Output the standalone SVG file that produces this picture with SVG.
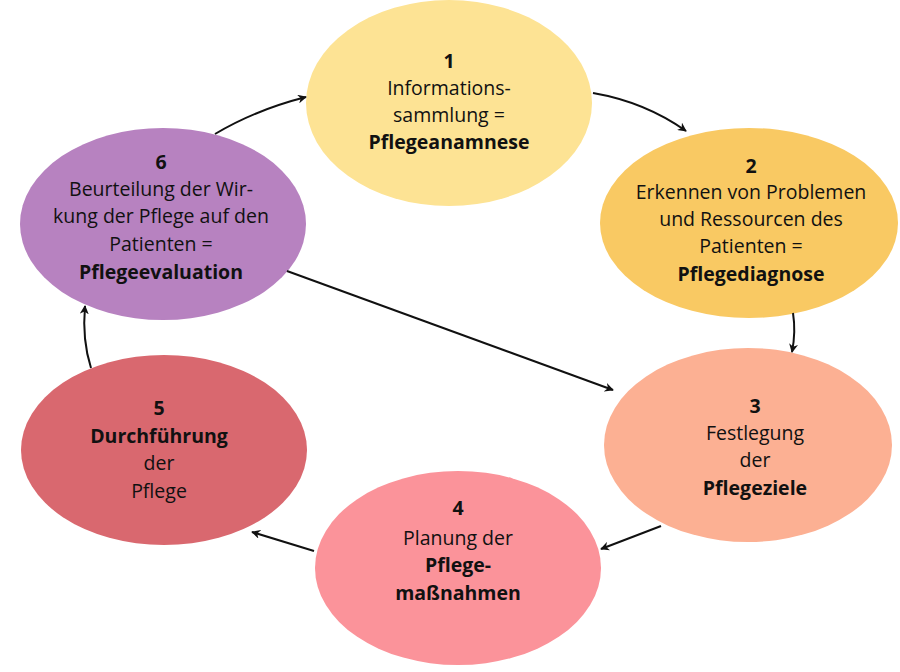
<svg xmlns="http://www.w3.org/2000/svg" width="900" height="672" viewBox="0 0 900 672">
<style>
text{font-family:"Open Sans","Liberation Sans",sans-serif;font-size:19.5px;fill:#111;text-anchor:middle}
.b{font-weight:bold}
.c path{fill:none;stroke:#111;stroke-width:2;marker-end:url(#ah)}
</style>
<defs>
<marker id="ah" viewBox="0 0 10 10" refX="9" refY="5" markerWidth="9" markerHeight="9" markerUnits="userSpaceOnUse" orient="auto"><path d="M0,0 L10,5 L0,10 L3,5 Z" fill="#111"/></marker>
</defs>
<rect width="900" height="672" fill="#fff"/>
<g id="n1"><ellipse cx="449" cy="103" rx="143" ry="103" fill="#fde394"/>
<text x="449" y="68" class="b">1</text><text x="449" y="95">Informations-</text><text x="449" y="122">sammlung =</text><text x="449" y="149" class="b">Pflegeanamnese</text></g>
<g id="n2"><ellipse cx="749" cy="223" rx="149" ry="95" fill="#f9c963"/>
<text x="751" y="173" class="b">2</text><text x="751" y="199">Erkennen von Problemen</text><text x="751" y="226">und Ressourcen des</text><text x="751" y="253">Patienten =</text><text x="751" y="281" class="b">Pflegediagnose</text></g>
<g id="n3"><ellipse cx="748" cy="445" rx="144" ry="97" fill="#fcb093"/>
<text x="755" y="413" class="b">3</text><text x="755" y="440">Festlegung</text><text x="755" y="467">der</text><text x="755" y="495" class="b">Pflegeziele</text></g>
<g id="n4"><ellipse cx="458" cy="568" rx="143" ry="97" fill="#fb939a"/>
<text x="458" y="515" class="b">4</text><text x="458" y="545">Planung der</text><text x="458" y="572" class="b">Pflege-</text><text x="458" y="600" class="b">maßnahmen</text></g>
<g id="n5"><ellipse cx="164" cy="450" rx="143" ry="95" fill="#d9686f"/>
<text x="159" y="415" class="b">5</text><text x="159" y="443" class="b">Durchführung</text><text x="159" y="470">der</text><text x="159" y="498">Pflege</text></g>
<g id="n6"><ellipse cx="163" cy="224" rx="143" ry="96" fill="#b782c0"/>
<text x="161" y="169" class="b">6</text><text x="161" y="196">Beurteilung der Wir-</text><text x="161" y="223">kung der Pflege auf den</text><text x="161" y="251">Patienten =</text><text x="161" y="279" class="b">Pflegeevaluation</text></g>
<g class="c" id="connectors">
<path d="M215,134 Q255,110 306,97"/>
<path d="M593,93 Q645,102 686,131"/>
<path d="M793,313 Q796,332 792,352"/>
<path d="M661,526 L601,549"/>
<path d="M314,551 L252,532"/>
<path d="M91,368 Q82,340 85,306"/>
<path d="M287,271 L613,390"/>
</g>
</svg>
